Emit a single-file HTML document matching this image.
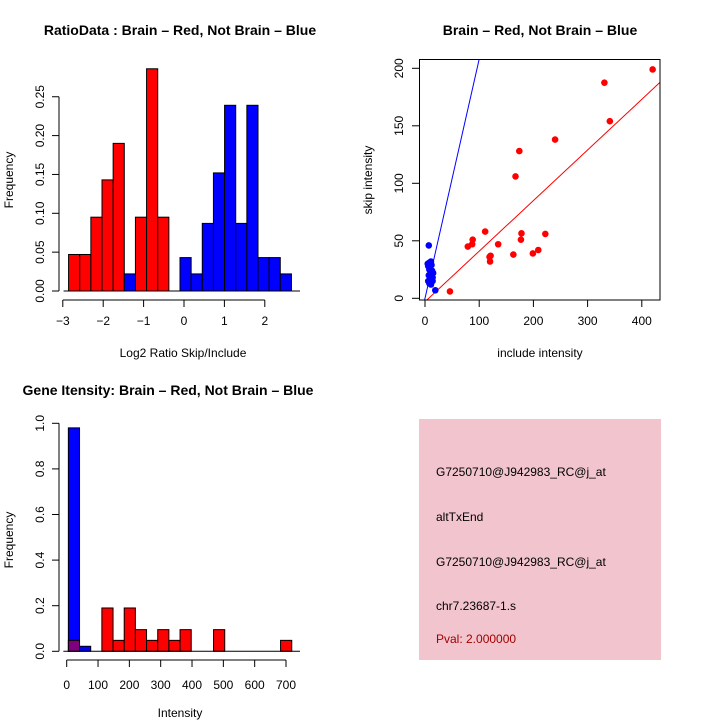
<!DOCTYPE html>
<html><head><meta charset="utf-8"><style>
body{margin:0;background:#fff}
svg{display:block;font-family:"Liberation Sans",sans-serif}
</style></head><body>
<svg id="c" width="720" height="720" viewBox="0 0 720 720">
<rect width="720" height="720" fill="#fff"/>
<text x="180" y="35" text-anchor="middle" font-size="14" font-weight="bold">RatioData : Brain – Red, Not Brain – Blue</text>
<text x="540" y="35" text-anchor="middle" font-size="14" font-weight="bold">Brain – Red, Not Brain – Blue</text>
<text x="168" y="395" text-anchor="middle" font-size="14" font-weight="bold">Gene Itensity: Brain – Red, Not Brain – Blue</text>
<text x="183" y="357" text-anchor="middle" font-size="12">Log2 Ratio Skip/Include</text>
<text transform="translate(13,180) rotate(-90)" text-anchor="middle" font-size="12">Frequency</text>
<text x="540" y="357" text-anchor="middle" font-size="12">include intensity</text>
<text transform="translate(372,180) rotate(-90)" text-anchor="middle" font-size="12">skip intensity</text>
<text x="180" y="717" text-anchor="middle" font-size="12">Intensity</text>
<text transform="translate(13,540) rotate(-90)" text-anchor="middle" font-size="12">Frequency</text>
<g>
<rect x="419" y="419" width="242" height="241" fill="#f2c4ce"/>
<text x="436" y="476" font-size="12">G7250710@J942983_RC@j_at</text>
<text x="436" y="521" font-size="12">altTxEnd</text>
<text x="436" y="566" font-size="12">G7250710@J942983_RC@j_at</text>
<text x="436" y="610" font-size="12">chr7.23687-1.s</text>
<text x="436" y="643" font-size="12" fill="#a00000">Pval: 2.000000</text>
</g>
</svg>
<script>
// ---- Ratio histogram data ----
const ratioRed  = [0.047,0.047,0.095,0.143,0.19,0,0.095,0.286,0.095,0,0,0,0,0,0,0,0,0,0,0];
const ratioBlue = [0,0,0,0,0,0.022,0,0,0,0,0.043,0.022,0.087,0.152,0.239,0.087,0.239,0.043,0.043,0.022];
const ratioBinStart = -2.857, ratioBinWidth = 0.2758;
const ratioXTicks = [-3,-2,-1,0,1,2];
const ratioYTicks = [0,0.05,0.10,0.15,0.20,0.25];
const ratioYLabels = ["0.00","0.05","0.10","0.15","0.20","0.25"];
// ---- Scatter data ----
const redX = [420,331,341,240,174,167,111,79,88,87,135,119,120,121,178,177,163,199,209,222,46];
const redY = [199,187.5,154,138,128,106,58,45,51,47,47,36,32,37,56.5,51,38,39,42,56,6];
const blueX = [7,19,5,6,8,10,12,14,6,8,9,11,7,13,15,10,12,8,14,11];
const blueY = [46,7,30,28,25,22,20,18,15,13,27,32,20,24,22,17,29,31,15,12];
const redFit = [-3,0.44];   // intercept, slope
const blueFit = [0,2.08];
const scatXTicks = [0,100,200,300,400];
const scatYTicks = [0,50,100,150,200];
// ---- Intensity histogram data ----
const intRed  = [0.048,0,0,0.19,0.048,0.19,0.095,0.048,0.095,0.048,0.095,0,0,0.095,0,0,0,0,0,0.048];
const intBlue = [0.98,0.022,0,0,0,0,0,0,0,0,0,0,0,0,0,0,0,0,0,0];
const intBinStart = 5.3, intBinWidth = 35.65;
const intXTicks = [0,100,200,300,400,500,600,700];
const intYTicks = [0,0.2,0.4,0.6,0.8,1.0];
const intYLabels = ["0.0","0.2","0.4","0.6","0.8","1.0"];

const svg = document.getElementById('c');
const NS = 'http://www.w3.org/2000/svg';
function mk(tag, attrs, parent){const e=document.createElementNS(NS,tag);for(const k in attrs)e.setAttribute(k,attrs[k]);(parent||svg).appendChild(e);return e;}
function txt(x,y,s,rot,parent){const t=mk('text',{x:rot?0:x,y:rot?0:y,'font-size':12,'text-anchor':'middle'},parent);if(rot)t.setAttribute('transform',`translate(${x},${y}) rotate(-90)`);t.textContent=s;return t;}

// ===== Ratio histogram =====
{
const g = mk('g',{});


const xs = v => 184 + v*40.4;
const ys = v => 291 - v*777;
function bars(arr,color,name){arr.forEach((v,i)=>{if(v<=0)return;const x0=xs(ratioBinStart+i*ratioBinWidth),x1=xs(ratioBinStart+(i+1)*ratioBinWidth);
const r=mk('rect',{x:x0,y:ys(v),width:x1-x0,height:ys(0)-ys(v),fill:color,stroke:'#000','stroke-width':1},g);

});}
bars(ratioRed,'#ff0000','ratio-red');
bars(ratioBlue,'#0000ff','ratio-blue');
mk('line',{x1:xs(ratioBinStart)-5,x2:300,y1:ys(0),y2:ys(0),stroke:'#000'},g);
mk('line',{x1:59,x2:59,y1:ys(0),y2:ys(0.25),stroke:'#000'},g);
ratioYTicks.forEach((v,i)=>{mk('line',{x1:52,x2:59,y1:ys(v),y2:ys(v),stroke:'#000'},g);txt(44,ys(v),ratioYLabels[i],true,g);});
mk('line',{x1:xs(-3),x2:xs(2),y1:300,y2:300,stroke:'#000'},g);
ratioXTicks.forEach(v=>{mk('line',{x1:xs(v),x2:xs(v),y1:300,y2:307,stroke:'#000'},g);txt(xs(v),325,v<0?'\u2212'+(-v):String(v),false,g);});
}
// ===== Scatter =====
{
const g = mk('g',{});


const xs = v => 425 + v*0.542;
const ys = v => 298.3 - v*1.15;
const cp = mk('clipPath',{id:'sc'},g); mk('rect',{x:419,y:59,width:241,height:241},cp);
const lg = mk('g',{'clip-path':'url(#sc)'},g);
const l1=mk('line',{x1:xs(-10),y1:ys(blueFit[0]+blueFit[1]*-10),x2:xs(150),y2:ys(blueFit[0]+blueFit[1]*150),stroke:'#0000ff'},lg);


const l2=mk('line',{x1:xs(-10),y1:ys(redFit[0]+redFit[1]*-10),x2:xs(450),y2:ys(redFit[0]+redFit[1]*450),stroke:'#ff0000'},lg);


redX.forEach((x,i)=>{const c=mk('circle',{cx:xs(x),cy:ys(redY[i]),r:3.3,fill:'#ff0000'},g);

});
blueX.forEach((x,i)=>{const c=mk('circle',{cx:xs(x),cy:ys(blueY[i]),r:3.3,fill:'#0000ff'},g);

});
mk('rect',{x:419.5,y:59.5,width:240.5,height:240.5,fill:'none',stroke:'#000'},g);
scatYTicks.forEach(v=>{mk('line',{x1:412,x2:419.5,y1:ys(v),y2:ys(v),stroke:'#000'},g);txt(403,ys(v),String(v),true,g);});
scatXTicks.forEach(v=>{mk('line',{x1:xs(v),x2:xs(v),y1:300,y2:307,stroke:'#000'},g);txt(xs(v),325,String(v),false,g);});
}
// ===== Intensity histogram =====
{
const g = mk('g',{});


const xs = v => 66.7 + v*0.3133;
const ys = v => 651.3 - v*228;
intBlue.forEach((v,i)=>{if(v<=0)return;const x0=xs(intBinStart+i*intBinWidth),x1=xs(intBinStart+(i+1)*intBinWidth);
const r=mk('rect',{x:x0,y:ys(v),width:x1-x0,height:ys(0)-ys(v),fill:'#0000ff',stroke:'#000'},g);

});
intRed.forEach((v,i)=>{if(v<=0)return;const x0=xs(intBinStart+i*intBinWidth),x1=xs(intBinStart+(i+1)*intBinWidth);
const col=intBlue[i]>=v?'#7f007f':'#ff0000';
const r=mk('rect',{x:x0,y:ys(v),width:x1-x0,height:ys(0)-ys(v),fill:col,stroke:'#000'},g);

});
mk('line',{x1:xs(intBinStart)-5,x2:300,y1:ys(0),y2:ys(0),stroke:'#000'},g);
mk('line',{x1:59,x2:59,y1:ys(0),y2:ys(1),stroke:'#000'},g);
intYTicks.forEach((v,i)=>{mk('line',{x1:52,x2:59,y1:ys(v),y2:ys(v),stroke:'#000'},g);txt(44,ys(v),intYLabels[i],true,g);});
mk('line',{x1:xs(0),x2:xs(700),y1:660,y2:660,stroke:'#000'},g);
intXTicks.forEach(v=>{mk('line',{x1:xs(v),x2:xs(v),y1:660,y2:667,stroke:'#000'},g);txt(xs(v),689,String(v),false,g);});
}
</script>
</body></html>
